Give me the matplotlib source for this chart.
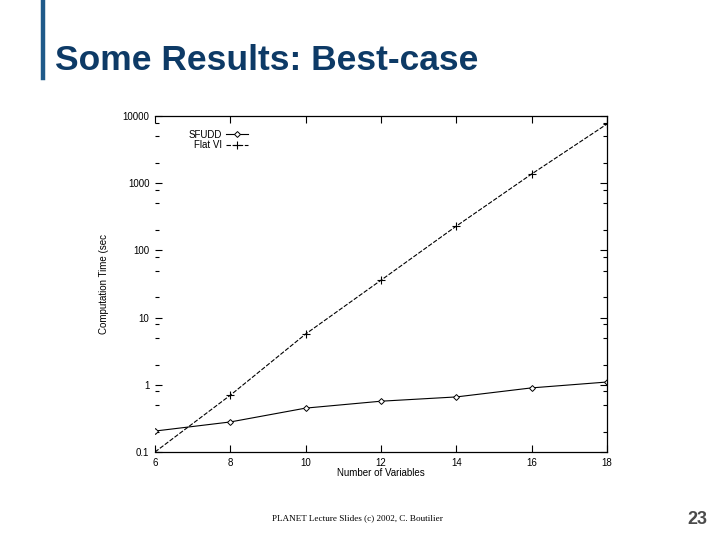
import matplotlib
matplotlib.use("Agg")
import matplotlib.pyplot as plt
from matplotlib.ticker import FixedLocator, FixedFormatter, NullFormatter

# data
num_vars = [6, 8, 10, 12, 14, 16, 18]
sfudd = [0.205, 0.28, 0.45, 0.57, 0.66, 0.90, 1.1]
flat_vi = [0.1, 0.70, 5.7, 36, 230, 1370, 7600]
y_major = [0.1, 1, 10, 100, 1000, 10000]
y_labels = ["0.1", "1", "10", "100", "1000", "10000"]

navy = "#0d3a66"

fig = plt.figure(figsize=(7.2, 5.4), dpi=100)
fig.patch.set_facecolor("white")

# slide decoration
fig.add_artist(plt.Line2D([42.5 / 720, 42.5 / 720], [1.0, 1 - 78 / 540],
                          color="#1f5a8a", lw=3.2))
fig.text(55 / 720, 1 - 60 / 540, "Some Results: Best-case", fontsize=25.5,
         fontweight="bold", color=navy, family="Liberation Sans",
         va="center", ha="left")
fig.text(272 / 720, 1 - 518 / 540,
         "PLANET Lecture Slides (c) 2002, C. Boutilier",
         fontsize=6.6, family="Liberation Serif", va="center", ha="left")
fig.text(707 / 720, 1 - 520 / 540, "23", fontsize=13, fontweight="bold",
         color="#4a4a4a", family="Liberation Sans", va="center", ha="right")

# the plot itself
ax = fig.add_axes([155 / 720, 1 - 452 / 540, 452 / 720, 336 / 540])
ax.set_yscale("log")
ax.set_xlim(6, 18)
ax.set_ylim(0.1, 10000)

ax.plot(num_vars, sfudd, color="black", lw=0.8, marker="D", ms=3,
        mfc="white", mec="black", mew=0.7, label="SFUDD")
ax.plot(num_vars, flat_vi, color="black", lw=0.8, ls=(0, (4, 1.5)),
        marker="+", ms=6, mew=0.8, label="Flat VI")

ax.spines["left"].set_visible(False)
for side in ["top", "right", "bottom"]:
    ax.spines[side].set_linewidth(0.9)

ax.set_xticks(num_vars)
ax.set_xticklabels([str(v) for v in num_vars])
ax.yaxis.set_major_locator(FixedLocator(y_major))
ax.yaxis.set_major_formatter(FixedFormatter(y_labels))
minors = []
for d in y_major[:-1]:
    minors += [2 * d, 5 * d, 8 * d]
ax.yaxis.set_minor_locator(FixedLocator(minors))
ax.yaxis.set_minor_formatter(NullFormatter())

ax.tick_params(which="both", direction="in", top=True, right=True,
               labelsize=7, pad=4, width=0.8)
ax.tick_params(which="major", length=5)
ax.tick_params(which="minor", length=3)

font = {"family": "Liberation Sans", "size": 7}
for lbl in ax.get_xticklabels() + ax.get_yticklabels():
    lbl.set_fontfamily("Liberation Sans")

ax.set_xlabel("Number of Variables", fontdict=font, labelpad=0)
fig.text(104 / 720, 1 - 284 / 540, "Computation Time (sec", rotation=90,
         fontdict=font, va="center", ha="center")

ax.legend(loc="upper left", bbox_to_anchor=(0.06, 0.98), frameon=False,
          prop=font, markerfirst=False, handlelength=2.2, handletextpad=0.4,
          labelspacing=0.05, borderpad=0.2)
for t in ax.get_legend().get_texts():
    t.set_ha("right")

fig.savefig("out.png", dpi=100, facecolor="white")
